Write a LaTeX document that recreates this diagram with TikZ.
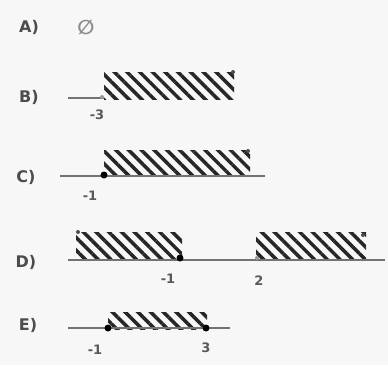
\documentclass[tikz,border=0pt]{standalone}
\usepackage{fontspec}
\setmainfont{DejaVu Sans}
\usetikzlibrary{patterns.meta}
\definecolor{bg}{HTML}{F7F7F7}
\tikzset{
  lbl/.style={font=\fontsize{16}{16}\selectfont\bfseries, text=black!70},
  num/.style={font=\fontsize{13}{13}\selectfont\bfseries, text=black!65},
  axis/.style={draw=black!55, line width=2pt},
  hatch/.style={pattern={Lines[angle=-45,distance=9pt,line width=3.5pt]}, pattern color=black!85},
  fdot/.style={circle, fill=black, inner sep=0pt, minimum size=7pt},
  odot/.style={circle, fill=black!40, inner sep=0pt, minimum size=4pt},
  tip/.style={circle, fill=black!70, inner sep=0pt, minimum size=4pt}
}
\begin{document}
\begin{tikzpicture}[x=1pt,y=-1pt]
\fill[bg] (0,0) rectangle (388,365);
\useasboundingbox (0,0) rectangle (388,365);
% A
\node[lbl] (la) at (29,27) {A)};
\node[lbl, text=black!45, font=\fontsize{20}{20}\selectfont\bfseries] (sa) at (86,27) {∅};
% B
\node[lbl] (lb) at (29,97) {B)};
\coordinate (b0) at (68,98);
\coordinate (b1) at (104,98);
\fill[hatch] (104,72) rectangle (234,99);
\draw[axis] (b0) -- (b1);
\node[odot] (bp) at (102,97) {};
\node[tip] (bt) at (233,72) {};
\node[num] (nb) at (97,115) {-3};
% C
\node[lbl] (lc) at (26,177) {C)};
\coordinate (c0) at (60,176);
\coordinate (c1) at (265,176);
\fill[hatch] (104,150) rectangle (250,176);
\draw[axis] (c0) -- (c1);
\node[fdot] (cp) at (104,175) {};
\node[tip] (ct) at (248,151) {};
\node[num] (nc) at (90,196) {-1};
% D
\node[lbl] (ld) at (26,262) {D)};
\coordinate (d0) at (68,260);
\coordinate (d1) at (385,260);
\fill[hatch] (76,232) rectangle (182,260);
\fill[hatch] (256,232) rectangle (366,260);
\draw[axis] (d0) -- (d1);
\node[fdot] (dp) at (180,258) {};
\node[odot] (dq) at (257,258) {};
\node[tip] (dt1) at (78,232) {};
\node[tip] (dt2) at (363,235) {};
\node[num] (nd1) at (168,279) {-1};
\node[num] (nd2) at (259,281) {2};
% E
\node[lbl] (le) at (28,325) {E)};
\coordinate (e0) at (68,328);
\coordinate (e1) at (230,328);
\fill[hatch] (108,312) rectangle (207,329);
\draw[axis] (e0) -- (e1);
\node[fdot] (ep) at (108,328) {};
\node[fdot] (eq) at (206,328) {};
\node[num] (ne1) at (95,350) {-1};
\node[num] (ne2) at (206,348) {3};
\end{tikzpicture}
\end{document}
